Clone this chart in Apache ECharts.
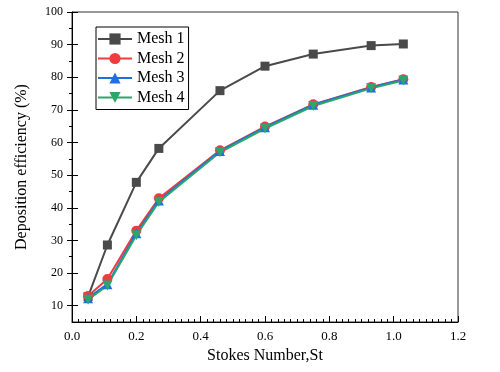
<!DOCTYPE html>
<html>
<head>
<meta charset="utf-8">
<script src="https://cdn.jsdelivr.net/npm/echarts@6/dist/echarts.min.js"></script>
<style>html,body{margin:0;padding:0;background:#fff}#c{width:500px;height:372px}</style>
</head>
<body>
<div id="c"></div>
<script>
var stokes = [0.05, 0.11, 0.2, 0.27, 0.46, 0.6, 0.75, 0.93, 1.03];
var mesh1 = [12.8, 28.6, 47.8, 58.2, 75.9, 83.4, 87.1, 89.7, 90.2];
var mesh2 = [13.0, 18.2, 33.0, 42.9, 57.6, 64.9, 71.7, 77.0, 79.4];
var mesh3 = [12.3, 16.6, 32.2, 42.2, 57.4, 64.7, 71.6, 76.9, 79.3];
var mesh4 = [11.8, 16.2, 31.6, 41.8, 57.0, 64.3, 71.2, 76.6, 79.0];
var seriesNames = ['Mesh 1', 'Mesh 2', 'Mesh 3', 'Mesh 4'];
var yMajorTicks = [10, 20, 30, 40, 50, 60, 70, 80, 90, 100];
var yMinorTicks = [15, 25, 35, 45, 55, 65, 75, 85, 95];

var font = 'Liberation Serif';
function pairs(ys) { return stokes.map(function (x, i) { return [x, ys[i]]; }); }
var colors = ['#4a4a4a', '#f03c3c', '#1f6fe0', '#2ca66c'];
var symbols = ['rect', 'circle', 'triangle', 'path://M0,0 L10,0 L5,9 Z'];
var sizes = [9, 10, 10, 10];
var data = [mesh1, mesh2, mesh3, mesh4];

var chart = echarts.init(document.getElementById('c'), null, {renderer: 'canvas'});
var yBase = {min: 5, max: 100, position: 'left', offset: 0, splitLine: {show: false}};
chart.setOption({
  animation: false,
  backgroundColor: '#fff',
  grid: {left: 72, right: 42, top: 12, bottom: 50, show: true, borderColor: '#333', borderWidth: 1},
  legend: {
    orient: 'vertical', left: 96, top: 27,
    data: seriesNames,
    borderColor: '#000', borderWidth: 1,
    padding: [4, 4, 4, 1],
    itemWidth: 34, itemHeight: 14, itemGap: 3.5,
    textStyle: {fontFamily: font, fontSize: 16, color: '#000', lineHeight: 16}
  },
  xAxis: {
    type: 'value', min: 0, max: 1.2, interval: 0.2,
    name: 'Stokes Number,St', nameLocation: 'middle', nameGap: 26,
    nameTextStyle: {fontFamily: font, fontSize: 16, color: '#000'},
    axisLine: {show: true, lineStyle: {color: '#000', width: 1}},
    axisTick: {show: true, inside: true, length: 6, lineStyle: {color: '#000'}},
    minorTick: {show: true, splitNumber: 10, length: 3, lineStyle: {color: '#000'}},
    axisLabel: {fontFamily: font, fontSize: 13, color: '#000', margin: 8,
      formatter: function (v) { return v.toFixed(1); }},
    splitLine: {show: false}
  },
  yAxis: [
    Object.assign({}, yBase, {
      type: 'value',
      name: 'Deposition efficiency (%)', nameLocation: 'middle', nameGap: 42,
      nameTextStyle: {fontFamily: font, fontSize: 16, color: '#000'},
      axisLine: {show: true, lineStyle: {color: '#000', width: 1}},
      axisTick: {show: true, customValues: yMajorTicks, length: 5, lineStyle: {color: '#000'}},
      axisLabel: {fontFamily: font, fontSize: 12, color: '#000', margin: 9, customValues: yMajorTicks}
    }),
    Object.assign({}, yBase, {
      type: 'value',
      axisLine: {show: false},
      axisTick: {show: true, customValues: yMinorTicks, length: 3, lineStyle: {color: '#000'}},
      axisLabel: {show: false}
    }),
    Object.assign({}, yBase, {
      type: 'value',
      axisLine: {show: false},
      axisTick: {show: true, inside: true, customValues: yMajorTicks, length: 6, lineStyle: {color: '#000'}},
      axisLabel: {show: false}
    })
  ],
  series: seriesNames.map(function (n, i) {
    return {
      name: n, type: 'line', yAxisIndex: 0,
      data: pairs(data[i]),
      symbol: symbols[i], symbolSize: sizes[i],
      lineStyle: {color: colors[i], width: 2},
      itemStyle: {color: colors[i]}
    };
  })
});
</script>
</body>
</html>
